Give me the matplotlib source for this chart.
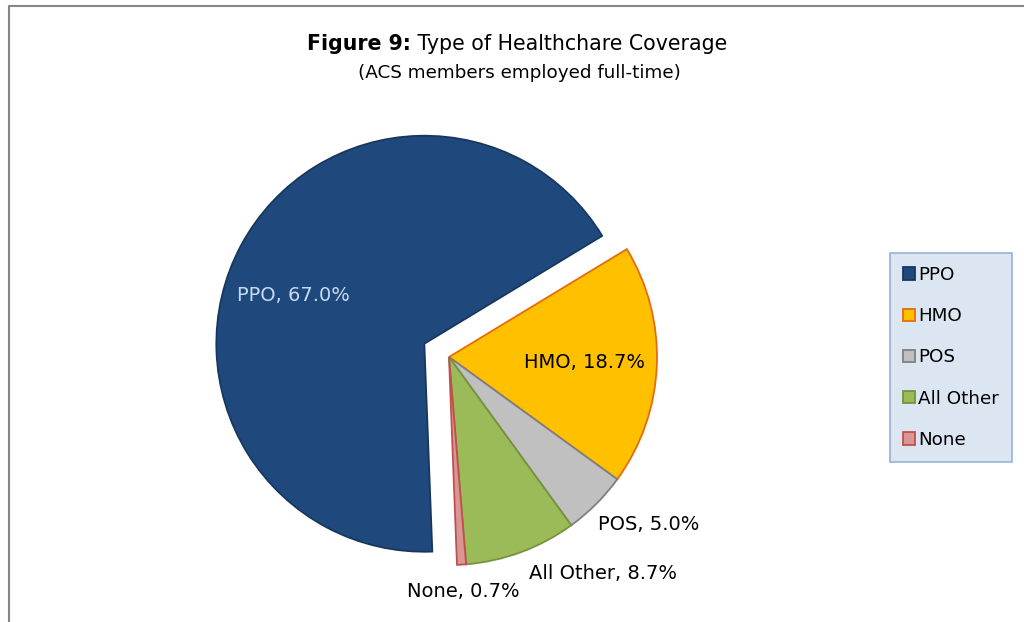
import matplotlib.pyplot as plt
import numpy as np

categories = ['PPO', 'HMO', 'POS', 'All Other', 'None']
shares = [67.0, 18.7, 5.0, 8.7, 0.7]

fill_colors = ['#1f497d', '#ffc000', '#c0c0c0', '#9bbb59', '#d99694']
edge_colors = ['#17375e', '#e46c0a', '#7f7f7f', '#77933c', '#c0504d']
label_colors = ['#c6d9f1', 'black', 'black', 'black', 'black']
# (radial distance as fraction of radius, angle nudge in degrees, alignment)
label_layout = [(0.67, 8.0, 'center'), (0.65, 0.0, 'center'),
                (1.08, -3.3, 'left'), (1.11, 0.0, 'left'),
                (1.13, 0.0, 'center')]

fig = plt.figure(figsize=(10.24, 6.22), dpi=100)
ax = fig.add_axes([0, 0, 1, 1])

radius = 208
wedges, _ = ax.pie(shares, startangle=-87.8, counterclock=False,
                   center=(449, 265), radius=radius,
                   explode=[28, 0, 0, 0, 0], colors=fill_colors,
                   wedgeprops=dict(linewidth=1.3))
for w, ec in zip(wedges, edge_colors):
    w.set_edgecolor(ec)

ax.set_xlim(0, 1024)
ax.set_ylim(0, 622)
ax.axis('off')

# data labels placed along each wedge's middle angle
for w, cat, val, col, (dist, nudge, ha) in zip(wedges, categories, shares,
                                                label_colors, label_layout):
    mid = np.deg2rad((w.theta1 + w.theta2) / 2 + nudge)
    cx, cy = w.center
    ax.text(cx + dist * radius * np.cos(mid), cy + dist * radius * np.sin(mid),
            f'{cat}, {val:.1f}%', ha=ha, va='center', color=col, fontsize=14)

# title: bold lead-in followed by regular text, centred as one line
renderer = fig.canvas.get_renderer()
t_bold = fig.text(0, 1 - 44 / 622, 'Figure 9:', fontweight='bold',
                  fontsize=14.8, va='center')
t_rest = fig.text(0, 1 - 44 / 622, ' Type of Healthchare Coverage',
                  fontsize=14.8, va='center')
w_bold = t_bold.get_window_extent(renderer).width
w_rest = t_rest.get_window_extent(renderer).width
x0 = 517 - (w_bold + w_rest) / 2
t_bold.set_x(x0 / 1024)
t_rest.set_x((x0 + w_bold) / 1024)

fig.text(519 / 1024, 1 - 73 / 622, '(ACS members employed full-time)',
         ha='center', va='center', fontsize=13.2)

leg = fig.legend(wedges, categories, loc='upper left',
                 bbox_to_anchor=(890 / 1024, 1 - 253 / 622),
                 fontsize=13.2, frameon=True, fancybox=False,
                 facecolor='#dce6f2', edgecolor='#95b3d7', framealpha=1,
                 handlelength=0.65, handleheight=0.65, handletextpad=0.2,
                 labelspacing=1.27, borderpad=0.7, borderaxespad=0)
leg.get_frame().set_linewidth(1.2)

# chart area outline (left and top edges)
fig.add_artist(plt.Line2D([8.5 / 1024, 8.5 / 1024, 1], [0, 1 - 6 / 622, 1 - 6 / 622],
                          color='#868686', linewidth=1.5))

fig.savefig('out.png', dpi=100)
